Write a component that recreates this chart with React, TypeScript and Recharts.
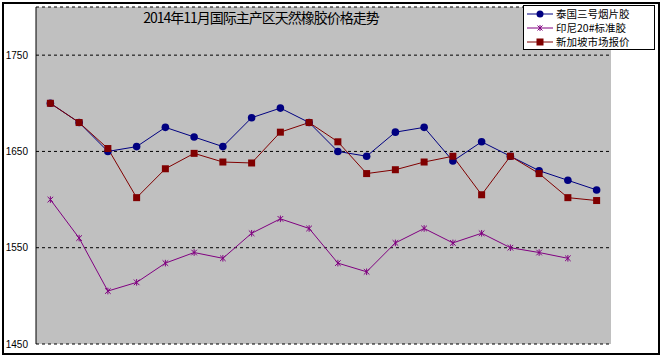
import { ComposedChart, Line, XAxis, YAxis, CartesianGrid } from "recharts";

const days = ["1", "2", "3", "4", "5", "6", "7", "8", "9", "10", "11", "12", "13", "14", "15", "16", "17", "18", "19", "20"];
const thaiRss3 = [1700, 1680, 1650, 1655, 1675, 1665, 1655, 1685, 1695, 1680, 1650, 1645, 1670, 1675, 1640, 1660, 1645, 1630, 1620, 1610];
const indoSir20 = [1600, 1560, 1505, 1514, 1534, 1545, 1539, 1565, 1580, 1570, 1534, 1525, 1555, 1570, 1555, 1565, 1550, 1545, 1539, null];
const singapore = [1700, 1680, 1653, 1602, 1632, 1648, 1639, 1638, 1670, 1680, 1660, 1627, 1631, 1639, 1645, 1605, 1645, 1627, 1602, 1599];
const yTicks = [1450, 1550, 1650, 1750];

const seriesNames = ["泰国三号烟片胶", "印尼20#标准胶", "新加坡市场报价"];
const seriesColors = ["#000080", "#800080", "#800000"];

const rows = days.map((d, i) => ({
  day: d,
  thai: thaiRss3[i],
  indo: indoSir20[i],
  sgp: singapore[i],
}));

const Circle = (p: any) => {
  if (p.cx == null || p.cy == null) return <g key={`c${p.index}`} />;
  return <circle key={`c${p.index}`} cx={p.cx} cy={p.cy} r={3.8} fill="#000080" stroke="none" />;
};

const Square = (p: any) => {
  if (p.cx == null || p.cy == null) return <g key={`s${p.index}`} />;
  return <rect key={`s${p.index}`} x={p.cx - 3.5} y={p.cy - 3.5} width={7} height={7} fill="#800000" />;
};

const Star = (p: any) => {
  if (p.cx == null || p.cy == null) return <g key={`a${p.index}`} />;
  const s = 2.8;
  return (
    <g key={`a${p.index}`} stroke="#800080" strokeWidth={1}>
      <line x1={p.cx - s} y1={p.cy - s} x2={p.cx + s} y2={p.cy + s} />
      <line x1={p.cx - s} y1={p.cy + s} x2={p.cx + s} y2={p.cy - s} />
      <line x1={p.cx} y1={p.cy - s - 0.5} x2={p.cx} y2={p.cy + s + 0.5} />
    </g>
  );
};

function LegendMark({ i }: { i: number }) {
  const c = seriesColors[i];
  return (
    <svg width={26} height={10} style={{ display: "block", flex: "none" }}>
      <line x1={0} y1={5} x2={26} y2={5} stroke={c} strokeWidth={1} />
      {i === 0 && <circle cx={13} cy={5} r={3.5} fill={c} />}
      {i === 1 && (
        <g stroke={c}>
          <line x1={10.5} y1={2.5} x2={15.5} y2={7.5} />
          <line x1={10.5} y1={7.5} x2={15.5} y2={2.5} />
          <line x1={13} y1={2} x2={13} y2={8} />
        </g>
      )}
      {i === 2 && <rect x={9.5} y={1.5} width={7} height={7} fill={c} />}
    </svg>
  );
}

export default function App() {
  return (
    <div style={{ position: "absolute", left: 0, top: 0, width: 662, height: 357, background: "#fff" }}>
      <ComposedChart
        width={662}
        height={357}
        data={rows}
        margin={{ top: 7, right: 51, left: 0, bottom: 13 }}
        style={{ position: "absolute", left: 0, top: 0 }}
      >
        <CartesianGrid vertical={false} fill="#c0c0c0" stroke="#000" strokeDasharray="3 3" yAxisId="left" />
        <XAxis dataKey="day" scale="band" height={0} tick={false} tickLine={false} axisLine={{ stroke: "#000" }} />
        <XAxis xAxisId="top" dataKey="day" scale="band" orientation="top" height={0} tick={false} tickLine={false} axisLine={{ stroke: "#808080" }} />
        <YAxis
          yAxisId="left"
          width={36}
          domain={[1450, 1800]}
          ticks={yTicks}
          tickLine={false}
          axisLine={{ stroke: "#000" }}
          tick={{ fill: "#000", fontSize: 10, fontFamily: "Liberation Sans, Arial, sans-serif" }}
        />
        <YAxis
          yAxisId="right"
          orientation="right"
          width={0}
          domain={[1450, 1800]}
          tick={false}
          tickLine={false}
          axisLine={{ stroke: "#808080" }}
        />
        <Line yAxisId="left" dataKey="thai" name={seriesNames[0]} stroke="#000080" strokeWidth={1} dot={Circle} isAnimationActive={false} />
        <Line yAxisId="left" dataKey="indo" name={seriesNames[1]} stroke="#800080" strokeWidth={1} dot={Star} isAnimationActive={false} />
        <Line yAxisId="left" dataKey="sgp" name={seriesNames[2]} stroke="#800000" strokeWidth={1} dot={Square} isAnimationActive={false} />
      </ComposedChart>

      {/* outer frame */}
      <div style={{ position: "absolute", left: 2, top: 2, width: 654, height: 349, border: "2px solid #000", pointerEvents: "none" }} />

      <div
        style={{
          position: "absolute",
          left: 61,
          width: 400,
          top: 8,
          textAlign: "center",
          fontFamily: "Noto Sans CJK SC, sans-serif",
          fontSize: 14,
          letterSpacing: -1,
          lineHeight: "18px",
          color: "#000",
        }}
      >
        2014年11月国际主产区天然橡胶价格走势
      </div>

      <div
        style={{
          position: "absolute",
          left: 523,
          top: 5,
          width: 130,
          height: 42,
          border: "1px solid #000",
          background: "#fff",
          paddingTop: 1,
          boxSizing: "content-box",
        }}
      >
        {seriesNames.map((n, i) => (
          <div key={n} style={{ display: "flex", alignItems: "center", height: 14, paddingLeft: 3, overflow: "hidden" }}>
            <LegendMark i={i} />
            <span style={{ marginLeft: 3, fontFamily: "Noto Sans CJK SC, sans-serif", fontSize: 10.5, lineHeight: "12px", color: "#000" }}>{n}</span>
          </div>
        ))}
      </div>
    </div>
  );
}
